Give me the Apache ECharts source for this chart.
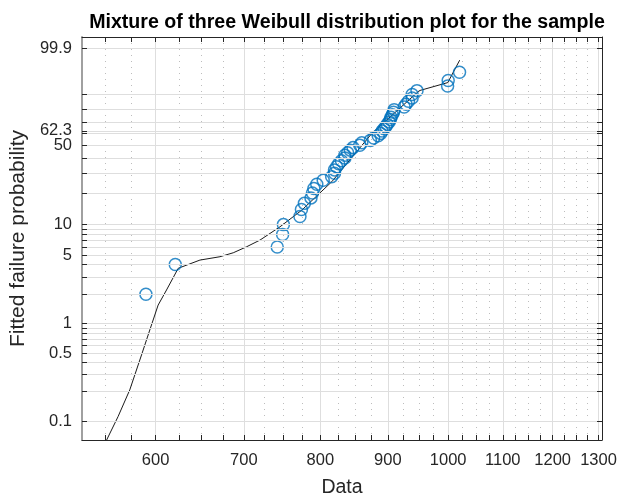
<!DOCTYPE html>
<html>
<head>
<meta charset="utf-8">
<script src="https://cdn.jsdelivr.net/npm/echarts@6/dist/echarts.min.js"></script>
<style>
html,body{margin:0;padding:0;background:#fff;}
#chart{width:630px;height:497px;}
</style>
</head>
<body>
<div id="chart"></div>
<script>
// ---- data ----
const titleText = 'Mixture of three Weibull distribution plot for the sample';
const xName = 'Data';
const yName = 'Fitted failure probability';

// x axis (log scale) ticks
const xMajorTicks = [600, 700, 800, 900, 1000, 1100, 1200, 1300];
const xMinorTicks = [550, 575, 625, 650, 675, 725, 750, 775, 825, 850, 875, 925, 950, 975,
                     1025, 1050, 1075, 1125, 1150, 1175, 1225, 1250, 1275];
const xRange = [527.7, 1308];

// y axis (Weibull probability scale, percent)
const yTickProbs = [0.1, 0.2, 0.3, 0.4, 0.5, 0.6, 0.7, 0.8, 0.9, 1, 2, 3, 4, 5, 6, 7, 8, 9,
                    10, 20, 30, 40, 50, 60, 62.3, 70, 80, 90, 99.9];
const yLabelProbs = [0.1, 0.5, 1, 5, 10, 50, 62.3, 99.9];
const yLabelTexts = ['0.1', '0.5', '1', '5', '10', '50', '62.3', '99.9'];

// sample points (sorted data, plotting probability in %)
const sampleX = [590, 621, 742, 749, 750, 772, 774, 778, 787, 789, 791, 795, 804, 816, 820, 820,
                 823, 826, 830, 835, 835, 839, 843, 847, 857, 860, 873, 878, 885, 889, 891, 894,
                 897, 899, 902, 904, 905, 907, 909, 910, 926, 929, 933, 939, 939, 947, 999, 1000, 1020];
const sampleP = [2, 4, 6, 8, 10, 12, 14, 16, 18, 20, 22, 24, 26, 28, 30, 32, 34, 36, 38, 40,
                 42, 44, 46, 48, 50, 52, 54, 56, 58, 60, 62, 64, 66, 68, 70, 72, 74, 76, 78, 80,
                 82, 84, 86, 88, 90, 92, 94, 96, 98];

// fitted mixture CDF curve
const fitX = [548, 562.0, 573.6, 585.5, 594.0, 602.7, 611.6, 624.2, 648.3, 671.4, 687.2, 703.4,
              720.0, 745.6, 774.5, 816.2, 875.3, 950.8, 999.3, 1020.3];
const fitP = [0.055, 0.111, 0.209, 0.478, 0.862, 1.55, 2.21, 3.67, 4.44, 4.80, 5.26, 6.04,
              7.04, 9.52, 13.8, 25.3, 60.0, 92.0, 95.3, 99.45];

// ---- transforms ----
const LX = v => Math.log(v);
const FY = p => Math.log(-Math.log(1 - p / 100));
const yMaxF = 2.1987, yMinF = -7.3586;

const fontFam = '"Liberation Sans", Arial, Helvetica, sans-serif';
const txt = '#262626';

const xMin = LX(xRange[0]), xMax = LX(xRange[1]);
const allX = xMajorTicks.concat(xMinorTicks).map(LX);
const allY = yTickProbs.map(FY);

function yFmt(v) {
  let best = 0, bd = Infinity;
  yLabelProbs.forEach((p, i) => { const d = Math.abs(FY(p) - v); if (d < bd) { bd = d; best = i; } });
  return yLabelTexts[best];
}
function xFmt(v) { return String(Math.round(Math.exp(v) / 100) * 100); }

const chart = echarts.init(document.getElementById('chart'), null, {renderer: 'canvas'});
chart.setOption({
  animation: false,
  backgroundColor: '#ffffff',
  title: {
    text: titleText, left: 342, top: 8, textAlign: 'center',
    textStyle: {fontFamily: fontFam, fontSize: 19.6, fontWeight: 'bold', color: '#000'}
  },
  grid: {left: 82, right: 28, top: 37, bottom: 57, containLabel: false, outerBoundsMode: 'none'},
  xAxis: [
    { // main bottom axis
      type: 'value', position: 'bottom', min: xMin, max: xMax, z: 5,
      axisLine: {onZero: false, lineStyle: {color: txt, width: 1}},
      axisTick: {inside: true, length: 5, customValues: allX, lineStyle: {color: txt}},
      axisLabel: {customValues: xMajorTicks.map(LX), formatter: xFmt, fontSize: 16.5, color: txt,
                  fontFamily: fontFam, margin: 12, hideOverlap: false},
      splitLine: {show: false},
      name: xName, nameLocation: 'middle', nameGap: 38,
      nameTextStyle: {fontSize: 19.5, color: txt, fontFamily: fontFam}
    },
    { // major grid lines
      type: 'value', position: 'bottom', min: xMin, max: xMax,
      axisLine: {show: false, onZero: false}, axisLabel: {show: false},
      axisTick: {show: false, customValues: xMajorTicks.map(LX)},
      splitLine: {show: true, lineStyle: {color: '#dedede', width: 1}}
    },
    { // minor dotted grid lines
      type: 'value', position: 'bottom', min: xMin, max: xMax,
      axisLine: {show: false, onZero: false}, axisLabel: {show: false},
      axisTick: {show: false, customValues: xMinorTicks.map(LX)},
      splitLine: {show: true, lineStyle: {color: '#bdbdbd', width: 1, type: [1, 5]}}
    },
    { // mirrored top axis
      type: 'value', position: 'top', min: xMin, max: xMax, z: 5,
      axisLine: {onZero: false, lineStyle: {color: txt, width: 1}},
      axisTick: {inside: true, length: 5, customValues: allX, lineStyle: {color: txt}},
      axisLabel: {show: false}, splitLine: {show: false}
    }
  ],
  yAxis: [
    {
      type: 'value', position: 'left', min: yMinF, max: yMaxF, z: 5,
      axisLine: {onZero: false, lineStyle: {color: '#a0a0a0', width: 2}},
      axisTick: {inside: true, length: 5, customValues: allY, lineStyle: {color: txt}},
      axisLabel: {customValues: yLabelProbs.map(FY), formatter: yFmt, fontSize: 16.5, color: txt,
                  fontFamily: fontFam, margin: 10, hideOverlap: false},
      splitLine: {show: true, lineStyle: {color: '#dedede', width: 1}},
      name: yName, nameLocation: 'middle', nameGap: 35,
      nameTextStyle: {fontSize: 21, color: txt, fontFamily: fontFam}
    },
    {
      type: 'value', position: 'right', min: yMinF, max: yMaxF, z: 5,
      axisLine: {onZero: false, lineStyle: {color: txt, width: 1}},
      axisTick: {inside: true, length: 5, customValues: allY, lineStyle: {color: txt}},
      axisLabel: {show: false}, splitLine: {show: false}
    }
  ],
  series: [
    {
      type: 'line', xAxisIndex: 0, yAxisIndex: 0, z: 3,
      data: fitX.map((x, i) => [LX(x), FY(fitP[i])]),
      showSymbol: false, symbol: 'none', clip: true,
      lineStyle: {color: '#000', width: 0.9}
    },
    {
      type: 'scatter', xAxisIndex: 0, yAxisIndex: 0, z: 4,
      data: sampleX.map((x, i) => [LX(x), FY(sampleP[i])]),
      symbol: 'circle', symbolSize: 12,
      itemStyle: {color: 'rgba(0,0,0,0)', borderColor: '#0072BD', borderWidth: 1.5}
    }
  ]
});
</script>
</body>
</html>
